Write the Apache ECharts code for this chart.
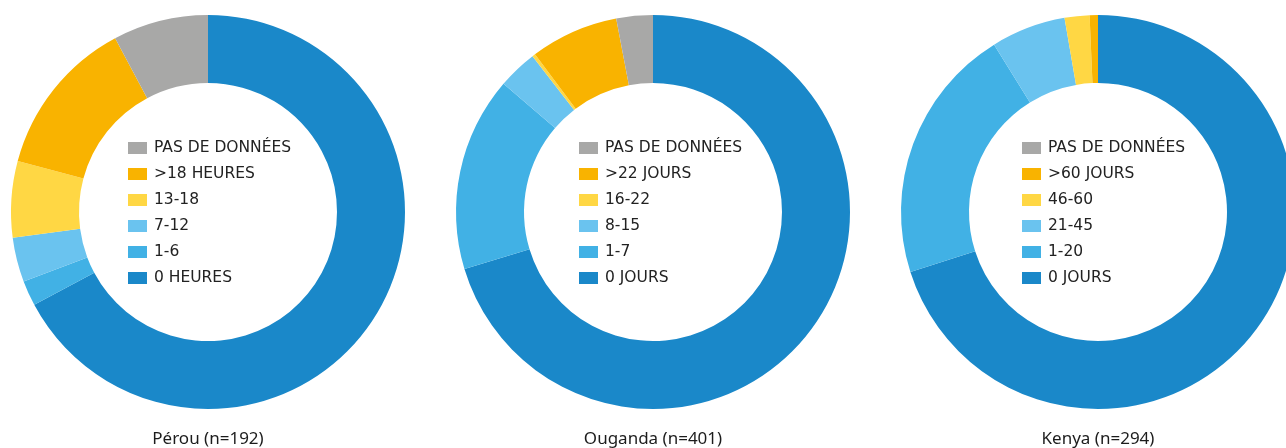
<!DOCTYPE html>
<html>
<head>
<meta charset="utf-8">
<script src="https://cdn.jsdelivr.net/npm/echarts@6/dist/echarts.min.js"></script>
<style>
  html, body { margin: 0; padding: 0; background: #fff; }
  #chart { width: 1286px; height: 448px; }
</style>
</head>
<body>
<div id="chart"></div>
<script>
// slice order: clockwise from 12 o'clock
var perouLabels = ['0 HEURES', '1-6', '7-12', '13-18', '>18 HEURES', 'PAS DE DONNÉES'];
var perouValues = [129, 4, 7, 12, 25, 15];

var ougandaLabels = ['0 JOURS', '1-7', '8-15', '16-22', '>22 JOURS', 'PAS DE DONNÉES'];
var ougandaValues = [282, 64, 13, 1, 29, 12];

var kenyaLabels = ['0 JOURS', '1-20', '21-45', '46-60', '>60 JOURS', 'PAS DE DONNÉES'];
var kenyaValues = [206, 62, 18, 6, 2, 0];

var titles = ['Pérou (n=192)', 'Ouganda (n=401)', 'Kenya (n=294)'];

var colors = ['#1a88c9', '#41b1e5', '#6ac3ef', '#ffd744', '#f9b300', '#a8a8a7'];

var centersX = [208, 653, 1098];
var legendLeft = [128, 579, 1022];

var myChart = echarts.init(document.getElementById('chart'));

function pieSeries(labels, values, cx) {
    return {
        type: 'pie',
        center: [cx, 212],
        radius: [129, 197],
        startAngle: 90,
        clockwise: true,
        silent: true,
        avoidLabelOverlap: false,
        label: { show: false },
        labelLine: { show: false },
        itemStyle: { borderWidth: 0 },
        emphasis: { disabled: true },
        data: labels.map(function (name, i) {
            return { name: name, value: values[i], itemStyle: { color: colors[i] } };
        })
    };
}

function legendFor(labels, left) {
    return {
        orient: 'vertical',
        left: left,
        top: 140,
        padding: 0,
        itemWidth: 19,
        itemHeight: 12,
        itemGap: 10,
        icon: 'rect',
        selectedMode: false,
        data: labels.slice().reverse(),
        textStyle: {
            fontFamily: 'DejaVu Sans',
            fontSize: 15.5,
            color: '#222',
            padding: [0, 0, 0, 2]
        }
    };
}

var allLabels = [perouLabels, ougandaLabels, kenyaLabels];
var allValues = [perouValues, ougandaValues, kenyaValues];

var option = {
    animation: false,
    series: allLabels.map(function (l, i) { return pieSeries(l, allValues[i], centersX[i]); }),
    legend: allLabels.map(function (l, i) { return legendFor(l, legendLeft[i]); }),
    graphic: titles.map(function (t, i) {
        return {
            type: 'text',
            style: {
                text: t,
                x: centersX[i],
                y: 439,
                textAlign: 'center',
                textVerticalAlign: 'middle',
                font: '17px "Noto Sans"',
                fill: '#1c1c1c'
            }
        };
    })
};

myChart.setOption(option);
</script>
</body>
</html>
